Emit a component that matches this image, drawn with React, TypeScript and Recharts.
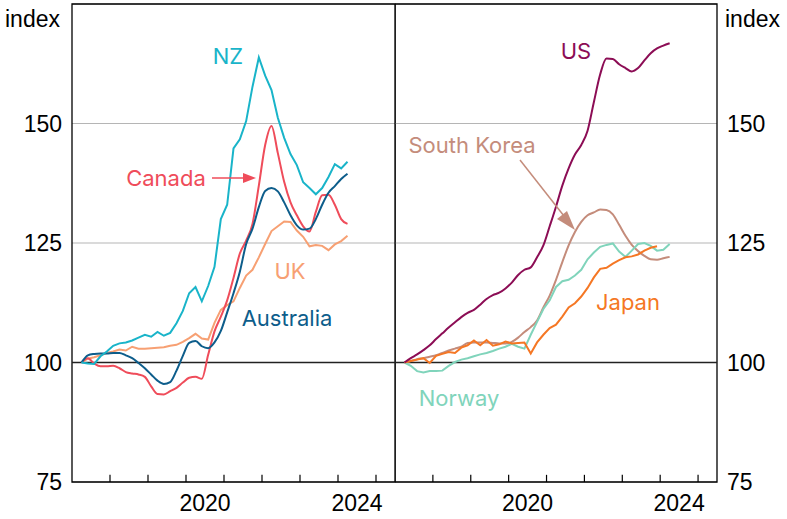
import React from 'react';
import { LineChart, Line, XAxis, YAxis, CartesianGrid, ReferenceLine, ReferenceArea } from 'recharts';

// observations every two months from Q2 2017, index = 100 at start
const START = 2017.25;
const STEP = 1 / 6;

const NZ = [100, 99.8, 99.7, 101.3, 102.3, 103.5, 104, 104.2, 104.6, 105.2, 105.8, 105.4, 106.4, 105.6, 106.2, 108.2, 110.8, 114.5, 115.8, 112.8, 116, 120, 130, 133, 144.8, 146.7, 150.5, 157.7, 163.8, 160, 157, 151.2, 147, 143.6, 141.3, 137.7, 136.5, 135.2, 136.5, 138.8, 141.5, 140.6, 142];
const AUSTRALIA = [100, 101.5, 101.8, 101.9, 101.9, 102, 102, 101.5, 100.9, 99.9, 98.8, 97.5, 96.2, 95.5, 95.9, 98.3, 101.4, 104.1, 104.5, 103.4, 103, 104.2, 106.6, 110.5, 114.5, 119, 124.8, 128, 132.5, 135.9, 136.5, 135.8, 133.5, 130.8, 128.7, 127.8, 128, 130, 133, 135.5, 136.9, 138.4, 139.5];
const CANADA = [100, 100.9, 99.8, 99.2, 99.2, 99.3, 98.8, 98, 97.7, 97.5, 97, 95, 93.4, 93.3, 94, 94.7, 95.8, 96.8, 97, 96.6, 101.6, 106.5, 109.6, 113, 117.7, 122.8, 125.5, 129, 137, 145.5, 149.5, 143.8, 137.8, 133.5, 130.8, 128.5, 127.4, 131.5, 135, 135.1, 133, 130, 129];
const UK = [100, 100.8, 101.1, 101.5, 102, 102.3, 102.7, 102.5, 103.3, 102.9, 102.9, 103, 103.1, 103.2, 103.5, 103.7, 104.3, 105.1, 106, 105, 104.8, 108.3, 111, 112, 112.8, 115.6, 118.2, 119.4, 122, 124.8, 127.5, 128.5, 129.5, 129.4, 127.6, 126.3, 124.3, 124.6, 124.4, 123.5, 124.7, 125.4, 126.5];

const US = [100, 100.9, 101.7, 102.6, 103.6, 104.9, 106.1, 107.3, 108.4, 109.5, 110.4, 111, 112.1, 113.3, 114.1, 114.6, 115.5, 116.7, 118.3, 119.4, 119.9, 122, 124.5, 128.5, 132.6, 137, 140.6, 143.5, 145.5, 148.5, 154.5, 160.3, 163.6, 163.5, 162.4, 161.6, 160.9, 161.6, 163.2, 164.7, 165.7, 166.3, 166.8];
const SOUTH_KOREA = [100, 100.3, 100.7, 100.9, 101.2, 101.5, 102, 102.5, 102.9, 103.3, 104.1, 104.2, 104.2, 104.2, 104.1, 104, 104, 104.3, 105.2, 106.4, 107.4, 108.8, 111.5, 114, 117.3, 121, 124.5, 127.3, 129.4, 130.8, 131.4, 132, 131.9, 131, 128.8, 126.5, 124.6, 123.3, 122.3, 121.6, 121.5, 121.8, 122.1];
const NORWAY = [100, 99.3, 98.2, 97.9, 98.2, 98.2, 98.3, 99.3, 100.1, 100.6, 100.9, 101.3, 101.7, 102, 102.4, 102.9, 103.3, 103.9, 103.3, 102.9, 105.8, 108.5, 111.2, 113, 115.8, 117, 117.3, 118.2, 119.4, 121.6, 123, 124.2, 124.6, 124.9, 123.2, 122.1, 123.4, 124.8, 125, 124.4, 123.4, 123.6, 124.8];
const JAPAN = [100, 100.3, 100.6, 100.9, 99.9, 101.4, 101.8, 102.2, 102, 103.1, 103.6, 104.6, 103.6, 104.7, 103.5, 103.8, 104.4, 104, 104.1, 104.2, 101.9, 104.2, 105.8, 107.2, 107.9, 109.6, 111.5, 112.4, 113.8, 115.6, 117.8, 119.6, 119.8, 120.7, 121.4, 122, 122.2, 122.6, 123.4, 124, 124.3, null, null];

const Y_TICKS = [75, 100, 125, 150];
const YEAR_TICKS = [2018, 2019, 2020, 2021, 2022, 2023, 2024, 2025];
const LABEL_TICKS = [2020.5, 2024.5];
const X_DOMAIN = [2017, 2025.5];
const Y_MIN = 75;
const Y_MAX = 175;
const TICK_LEN = 1.5; // inward year tick, in index points

const leftRows = NZ.map((v, i) => ({
  t: START + i * STEP, nz: v, australia: AUSTRALIA[i], canada: CANADA[i], uk: UK[i],
}));
const rightRows = US.map((v, i) => ({
  t: START + i * STEP, us: v, korea: SOUTH_KOREA[i], norway: NORWAY[i], japan: JAPAN[i],
}));

const AXIS_FONT = { fontFamily: '"Liberation Sans", Arial, sans-serif', fontSize: 23, fill: '#000' };
const LABEL_FONT = '"Inter", "Noto Sans", sans-serif';

const label = (text: string, x: number, y: number, color: string) => (
  <div style={{
    position: 'absolute', left: x, top: y, transform: 'translate(-50%, -50%)',
    color, fontFamily: LABEL_FONT, fontSize: 22, lineHeight: 1, whiteSpace: 'nowrap',
  }}>{text}</div>
);

function Panel({ data, side, children }: { data: any[]; side: 'left' | 'right'; children: React.ReactNode }) {
  const isLeft = side === 'left';
  return (
    <LineChart
      width={isLeft ? 396 : 392}
      height={519}
      data={data}
      margin={{ top: 4, right: isLeft ? 1 : 0, left: 0, bottom: 0 }}
    >
      <CartesianGrid vertical={false} stroke="#b5b5b5" strokeWidth={1.2} />
      <XAxis dataKey="t" type="number" domain={X_DOMAIN} allowDataOverflow hide height={0} />
      <XAxis
        xAxisId="lab" dataKey="t" type="number" domain={X_DOMAIN} ticks={LABEL_TICKS}
        height={37} tickLine={false} axisLine={false} tickMargin={7}
        tickFormatter={(v: number) => String(Math.floor(v))} tick={AXIS_FONT}
      />
      <YAxis
        orientation={side} width={isLeft ? 72 : 70} domain={[Y_MIN, Y_MAX]} ticks={Y_TICKS}
        tickLine={false} axisLine={false} tickSize={6} tickMargin={4} tick={AXIS_FONT}
        allowDataOverflow
      />
      <ReferenceLine y={100} stroke="#222" strokeWidth={1.6} />
      {children}
      {YEAR_TICKS.map((yr) => (
        <ReferenceLine
          key={yr}
          segment={[{ x: yr, y: Y_MIN }, { x: yr, y: Y_MIN + TICK_LEN }]}
          stroke="#000" strokeWidth={1.2}
        />
      ))}
      <ReferenceArea x1={X_DOMAIN[0]} x2={X_DOMAIN[1]} y1={Y_MIN} y2={Y_MAX} fill="none" stroke="#000" strokeWidth={1.3} ifOverflow="visible" />
    </LineChart>
  );
}

export default function App() {
  return (
    <div style={{ position: 'absolute', left: 0, top: 0, width: 787, height: 519, background: '#fff' }}>
      <div style={{ position: 'absolute', left: 0, top: 0 }}>
        <Panel data={leftRows} side="left">
          <Line dataKey="uk" stroke="#f7a073" strokeWidth={2} dot={false} type="linear" isAnimationActive={false} />
          <Line dataKey="canada" stroke="#ef4c5a" strokeWidth={2} dot={false} type="monotone" isAnimationActive={false} />
          <Line dataKey="australia" stroke="#0d5d8b" strokeWidth={2} dot={false} type="monotone" isAnimationActive={false} />
          <Line dataKey="nz" stroke="#19b4c9" strokeWidth={2} dot={false} type="linear" isAnimationActive={false} />
        </Panel>
      </div>
      <div style={{ position: 'absolute', left: 395, top: 0 }}>
        <Panel data={rightRows} side="right">
          <Line dataKey="korea" stroke="#c48c7b" strokeWidth={2} dot={false} type="monotone" isAnimationActive={false} />
          <Line dataKey="norway" stroke="#80d4bb" strokeWidth={2} dot={false} type="linear" isAnimationActive={false} />
          <Line dataKey="japan" stroke="#f57724" strokeWidth={2} dot={false} type="linear" isAnimationActive={false} />
          <Line dataKey="us" stroke="#8c0d55" strokeWidth={2} dot={false} type="monotone" isAnimationActive={false} />
        </Panel>
      </div>

      <div style={{ position: 'absolute', left: 5, top: 6, fontFamily: AXIS_FONT.fontFamily, fontSize: 23 }}>index</div>
      <div style={{ position: 'absolute', left: 725, top: 6, fontFamily: AXIS_FONT.fontFamily, fontSize: 23 }}>index</div>

      {label('NZ', 228, 56, '#19b4c9')}
      {label('Canada', 166, 178, '#ef4c5a')}
      {label('UK', 290, 271, '#f7a073')}
      {label('Australia', 287, 318, '#0d5d8b')}
      {label('US', 576, 51, '#8c0d55')}
      {label('South Korea', 472, 145, '#c48c7b')}
      {label('Japan', 628, 302, '#f57724')}
      {label('Norway', 459, 398, '#80d4bb')}

      <svg width={787} height={519} style={{ position: 'absolute', left: 0, top: 0, pointerEvents: 'none' }}>
        <line x1={212} y1={178} x2={244} y2={178} stroke="#ef4c5a" strokeWidth={1.5} />
        <polygon points="256,178 243,173 243,183" fill="#ef4c5a" />
        <line x1={520} y1={160} x2={564} y2={216} stroke="#c48c7b" strokeWidth={1.5} />
        <polygon points="575,230 557,219 567,211" fill="#c48c7b" />
      </svg>
    </div>
  );
}
